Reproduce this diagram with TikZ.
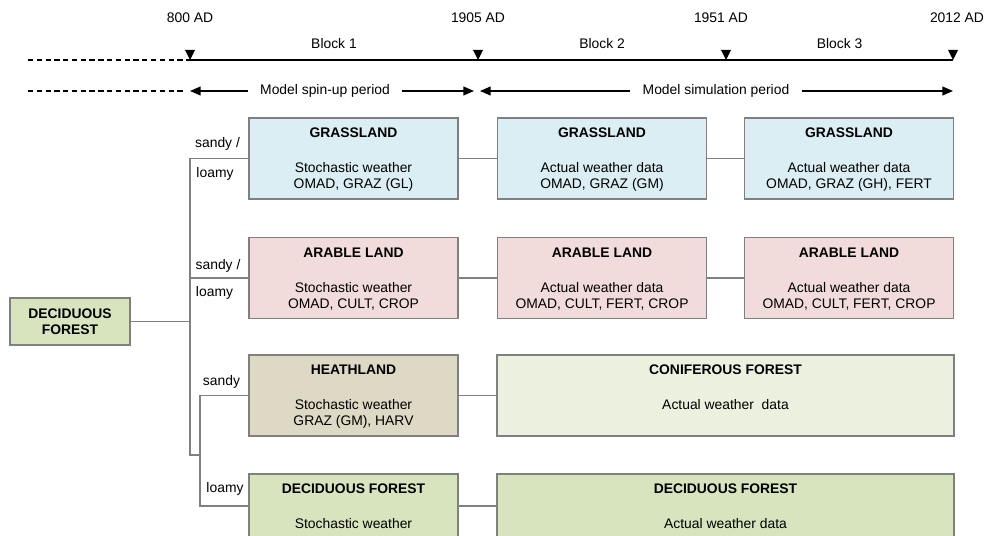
\documentclass[tikz,border=0pt]{standalone}
\usepackage{fontspec}
\setmainfont{Liberation Sans}
\usetikzlibrary{calc}
\usetikzlibrary{positioning}
\usetikzlibrary{arrows.meta}
\definecolor{linegray}{HTML}{808080}
\definecolor{grassblue}{HTML}{DAEEF3}
\definecolor{arablepink}{HTML}{F2DCDB}
\definecolor{heathtan}{HTML}{DDD9C4}
\definecolor{conifgreen}{HTML}{EBF1DE}
\definecolor{decidgreen}{HTML}{D7E4BD}
\newcommand{\diagfont}{\fontsize{7.9}{9.1}\selectfont}
\tikzset{
  box/.style = {draw=linegray, fill=#1, line width=0.8pt, minimum width=4.18cm, minimum height=1.62cm, inner sep=0pt},
  wide/.style = {minimum width=9.14cm},
  short/.style = {minimum height=1.28cm},
  boxtitle/.style = {font=\diagfont\bfseries, inner sep=0pt, anchor=north},
  boxtext/.style = {font=\diagfont, inner sep=0pt, anchor=north, align=center},
  conn/.style = {color=#1, line width=0.75pt},
  timeline/.style = {color=#1, line width=0.75pt},
  period/.style = {color=#1, line width=0.75pt, -{Triangle[length=6pt,width=5pt]}},
  gap/.style = {inner xsep=6.8pt},
  soil/.style = {font=\diagfont, inner sep=0pt}
}
\newcommand{\landbox}[6][]{%
  % #1: optional style (wide, short)
  % #2: node name
  % #3: centre
  % #4: fill colour
  % #5: title
  % #6: text lines
  \node[box={#4}, #1] (#2) at (#3) {};
  \node[boxtitle] (#2t) at ($(#2.north)+(0,-10.5)$) {#5};
  \node[boxtext] (#2x) at ($(#2.north)+(0,-45)$) {#6};
}

\begin{document}
\begin{tikzpicture}[x=0.02cm, y=0.02cm, font=\diagfont]

    \useasboundingbox (0,0) rectangle (986,535);
    \clip (0,0) rectangle (986,535);

    % Coordinates
    \coordinate (t0) at (28,475);
    \coordinate (t1) at (190,475);
    \coordinate (t2) at (478,475);
    \coordinate (t3) at (726,475);
    \coordinate (t4) at (953,475);
    \coordinate (p0) at (28,444);
    \coordinate (p1) at (183,444);
    \coordinate (s1) at (190,444);
    \coordinate (s2) at (474,444);
    \coordinate (m1) at (480,444);
    \coordinate (m2) at (953,444);
    \coordinate (j1) at (190,213.5);
    \coordinate (j2) at (200,80);

    % Time axis
    \draw[timeline={black}, dash pattern=on 3pt off 2pt] (t0) -- (t1);
    \draw[timeline={black}] (t1) -- node[above=2.5pt] (b1) {Block 1} (t2)
      -- node[above=2.5pt] (b2) {Block 2} (t3)
      -- node[above=2.5pt] (b3) {Block 3} (t4);
    \foreach \t in {t1,t2,t3,t4}
      \fill ($(\t)+(-5,10)$) -- ($(\t)+(5,10)$) -- (\t) -- cycle;
    \node[above=18pt] (y1) at (t1) {800 AD};
    \node[above=18pt] (y2) at (t2) {1905 AD};
    \node[above=18pt] (y3) at ($(t3)+(-5,0)$) {1951 AD};
    \node[above=18pt] (y4) at ($(t4)+(4,0)$) {2012 AD};

    % Periods
    \draw[timeline={black}, dash pattern=on 3pt off 2pt] (p0) -- (p1);
    \node[gap] (spin) at (325,444) {Model spin-up period};
    \node[gap] (sim) at (716,444) {Model simulation period};
    \draw[period={black}] (spin) -- (s1);
    \draw[period={black}] (spin) -- (s2);
    \draw[period={black}] (sim) -- (m1);
    \draw[period={black}] (sim) -- (m2);

    % Land use boxes
    \node[box={decidgreen}, minimum width=2.4cm, minimum height=0.94cm, align=center, font=\diagfont\bfseries] (df) at (70,213.5) {DECIDUOUS\\FOREST};

    \landbox{g1}{353.5,376.5}{grassblue}{GRASSLAND}{Stochastic weather\\OMAD, GRAZ (GL)}
    \landbox{g2}{602,376.5}{grassblue}{GRASSLAND}{Actual weather data\\OMAD, GRAZ (GM)}
    \landbox{g3}{849,376.5}{grassblue}{GRASSLAND}{Actual weather data\\OMAD, GRAZ (GH), FERT}

    \landbox{a1}{353.5,257}{arablepink}{ARABLE LAND}{Stochastic weather\\OMAD, CULT, CROP}
    \landbox{a2}{602,257}{arablepink}{ARABLE LAND}{Actual weather data\\OMAD, CULT, FERT, CROP}
    \landbox{a3}{849,257}{arablepink}{ARABLE LAND}{Actual weather data\\OMAD, CULT, FERT, CROP}

    \landbox{h1}{353.5,139.5}{heathtan}{HEATHLAND}{Stochastic weather\\GRAZ (GM), HARV}
    \landbox[wide]{c2}{725.5,139.5}{conifgreen}{CONIFEROUS FOREST}{Actual weather~~data}

    \landbox[short]{d1}{353.5,29}{decidgreen}{DECIDUOUS FOREST}{Stochastic weather}
    \landbox[wide, short]{d2}{725.5,29}{decidgreen}{DECIDUOUS FOREST}{Actual weather data}

    % Connectors
    \draw[conn={linegray}] (df) -- (j1);
    \draw[conn={linegray}] (g1.west) -| (j1);
    \draw[conn={linegray}] (a1.west) -| (j1);
    \draw[conn={linegray}] (j1) |- (j2);
    \draw[conn={linegray}] (h1.west) -| (j2);
    \draw[conn={linegray}] (d1.west) -| (j2);
    \draw[conn={linegray}] (g1) -- (g2);
    \draw[conn={linegray}] (g2) -- (g3);
    \draw[conn={linegray}] (a1) -- (a2);
    \draw[conn={linegray}] (a2) -- (a3);
    \draw[conn={linegray}] (h1) -- (c2);
    \draw[conn={linegray}] (d1) -- (d2);

    % Soil labels
    \node[soil] (sg) at (217.5,391) {sandy /};
    \node[soil] (lg) at (215,361) {loamy};
    \node[soil] (sa) at (218,269) {sandy /};
    \node[soil] (la) at (214.5,242) {loamy};
    \node[soil] (sh) at (221.5,153) {sandy};
    \node[soil] (ld) at (225,46) {loamy};

\end{tikzpicture}
\end{document}
